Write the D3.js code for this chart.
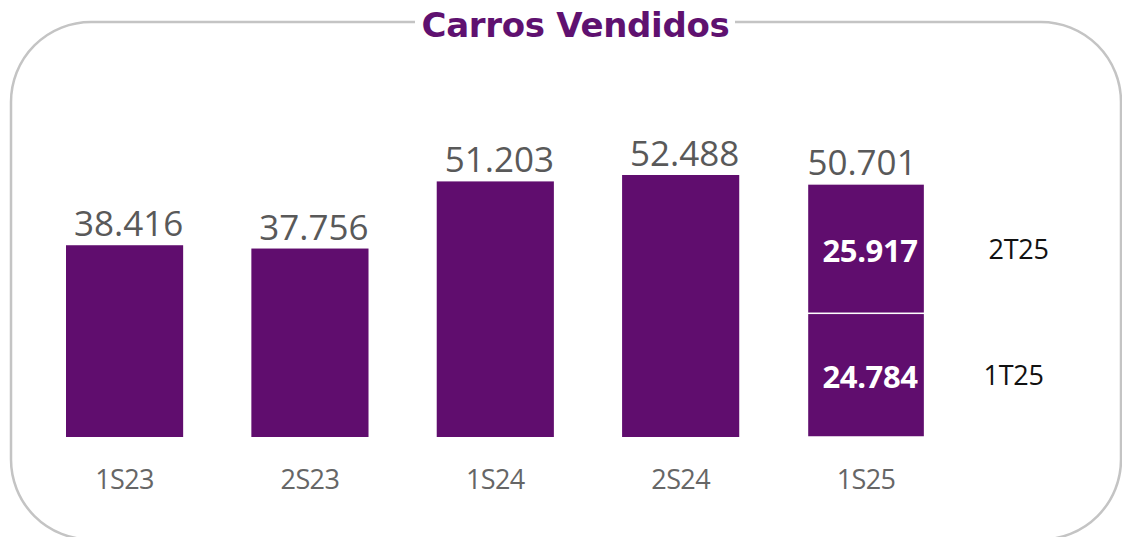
<!DOCTYPE html>
<html>
<head>
<meta charset="utf-8">
<script src="https://cdn.jsdelivr.net/npm/d3@7"></script>
<style>
  html, body { margin: 0; padding: 0; background: #fff; }
  svg { display: block; }
</style>
</head>
<body>
<svg id="chart" width="1122" height="537"></svg>
<script>
// ---- Data ----
const title = "Carros Vendidos";
const categories = ["1S23", "2S23", "1S24", "2S24", "1S25"];
const totals = [38416, 37756, 51203, 52488, 50701];
// Stacked breakdown for the last semester (bottom to top)
const stackCategory = "1S25";
const stackNames = ["1T25", "2T25"];
const stackValues = [24784, 25917];

// ---- Setup ----
const W = 1122, H = 537;
const svg = d3.select("#chart");
const purple = "#600d6e";
const fmt = d3.formatLocale({decimal: ",", thousands: ".", grouping: [3], currency: ["", ""]}).format(",d");

const x = d3.scaleBand().domain(categories).range([66, 924.6]).paddingInner(0.368).paddingOuter(0);
const y = d3.scaleLinear().domain([0, 60000]).range([437, 137.5]);

// Frame
svg.append("rect")
  .attr("x", 11).attr("y", 22).attr("width", 1110).attr("height", 517.5)
  .attr("rx", 80).attr("ry", 80)
  .attr("fill", "none").attr("stroke", "#c4c4c4").attr("stroke-width", 2.5);

// Title with gap in frame
const titleG = svg.append("g");
titleG.append("rect")
  .attr("x", 415).attr("y", 14).attr("width", 320).attr("height", 16)
  .attr("fill", "#fff");
titleG.append("text")
  .attr("x", 575.5).attr("y", 37)
  .attr("text-anchor", "middle")
  .attr("font-family", "'DejaVu Sans', sans-serif")
  .attr("font-weight", 700)
  .attr("font-size", 34)
  .attr("fill", "#5f1170")
  .attr("letter-spacing", -0.3)
  .text(title);

// Single bars (all except stacked category)
const singles = categories.map((c, i) => ({c, v: totals[i]})).filter(d => d.c !== stackCategory);
svg.append("g").selectAll("rect").data(singles).join("rect")
  .attr("x", d => x(d.c))
  .attr("y", d => y(d.v))
  .attr("width", x.bandwidth())
  .attr("height", d => y(0) - y(d.v))
  .attr("fill", purple);

// Stacked bar
let cum = 0;
const segs = stackValues.map((v, i) => {
  const s = {name: stackNames[i], v, y0: cum, y1: cum + v};
  cum += v;
  return s;
});
const sg = svg.append("g");
sg.selectAll("rect").data(segs).join("rect")
  .attr("x", x(stackCategory))
  .attr("y", d => y(d.y1))
  .attr("width", x.bandwidth())
  .attr("height", d => y(d.y0) - y(d.y1))
  .attr("fill", purple)
  .attr("stroke", "#fff").attr("stroke-width", 1.5);
// inner labels
sg.selectAll("text.inner").data(segs).join("text")
  .attr("class", "inner")
  .attr("x", x(stackCategory) + x.bandwidth() - 7)
  .attr("y", d => (y(d.y0) + y(d.y1)) / 2 + 13)
  .attr("text-anchor", "end")
  .attr("font-family", "'Open Sans', sans-serif")
  .attr("font-weight", 700)
  .attr("font-size", 31)
  .attr("letter-spacing", -0.4)
  .attr("fill", "#fff")
  .text(d => fmt(d.v));
// side labels
sg.selectAll("text.side").data(segs).join("text")
  .attr("class", "side")
  .attr("x", (d, i) => x(stackCategory) + x.bandwidth() + (i === 0 ? 89 : 94))
  .attr("y", d => (y(d.y0) + y(d.y1)) / 2 + 10)
  .attr("text-anchor", "middle")
  .attr("font-family", "'Open Sans', sans-serif")
  .attr("font-size", 27)
  .attr("letter-spacing", -0.3)
  .attr("fill", "#111")
  .text(d => d.name);

// Total labels
svg.append("g").selectAll("text").data(categories.map((c, i) => ({c, v: totals[i]}))).join("text")
  .attr("x", d => x(d.c) + x.bandwidth() / 2 + (d.c === stackCategory ? -4 : 4))
  .attr("y", d => y(d.v) - 9)
  .attr("text-anchor", "middle")
  .attr("font-family", "'Open Sans', sans-serif")
  .attr("font-size", 35)
  .attr("letter-spacing", 0)
  .attr("fill", "#595959")
  .text(d => fmt(d.v));

// Category axis labels
const xAxis = d3.axisBottom(x).tickSize(0).tickPadding(0);
const ax = svg.append("g").attr("transform", `translate(0,${y(0)})`).call(xAxis);
ax.select(".domain").remove();
ax.selectAll("text")
  .attr("dy", null)
  .attr("y", 52)
  .attr("font-family", "'Open Sans', sans-serif")
  .attr("font-size", 27)
  .attr("letter-spacing", -0.6)
  .attr("fill", "#666");
</script>
</body>
</html>
